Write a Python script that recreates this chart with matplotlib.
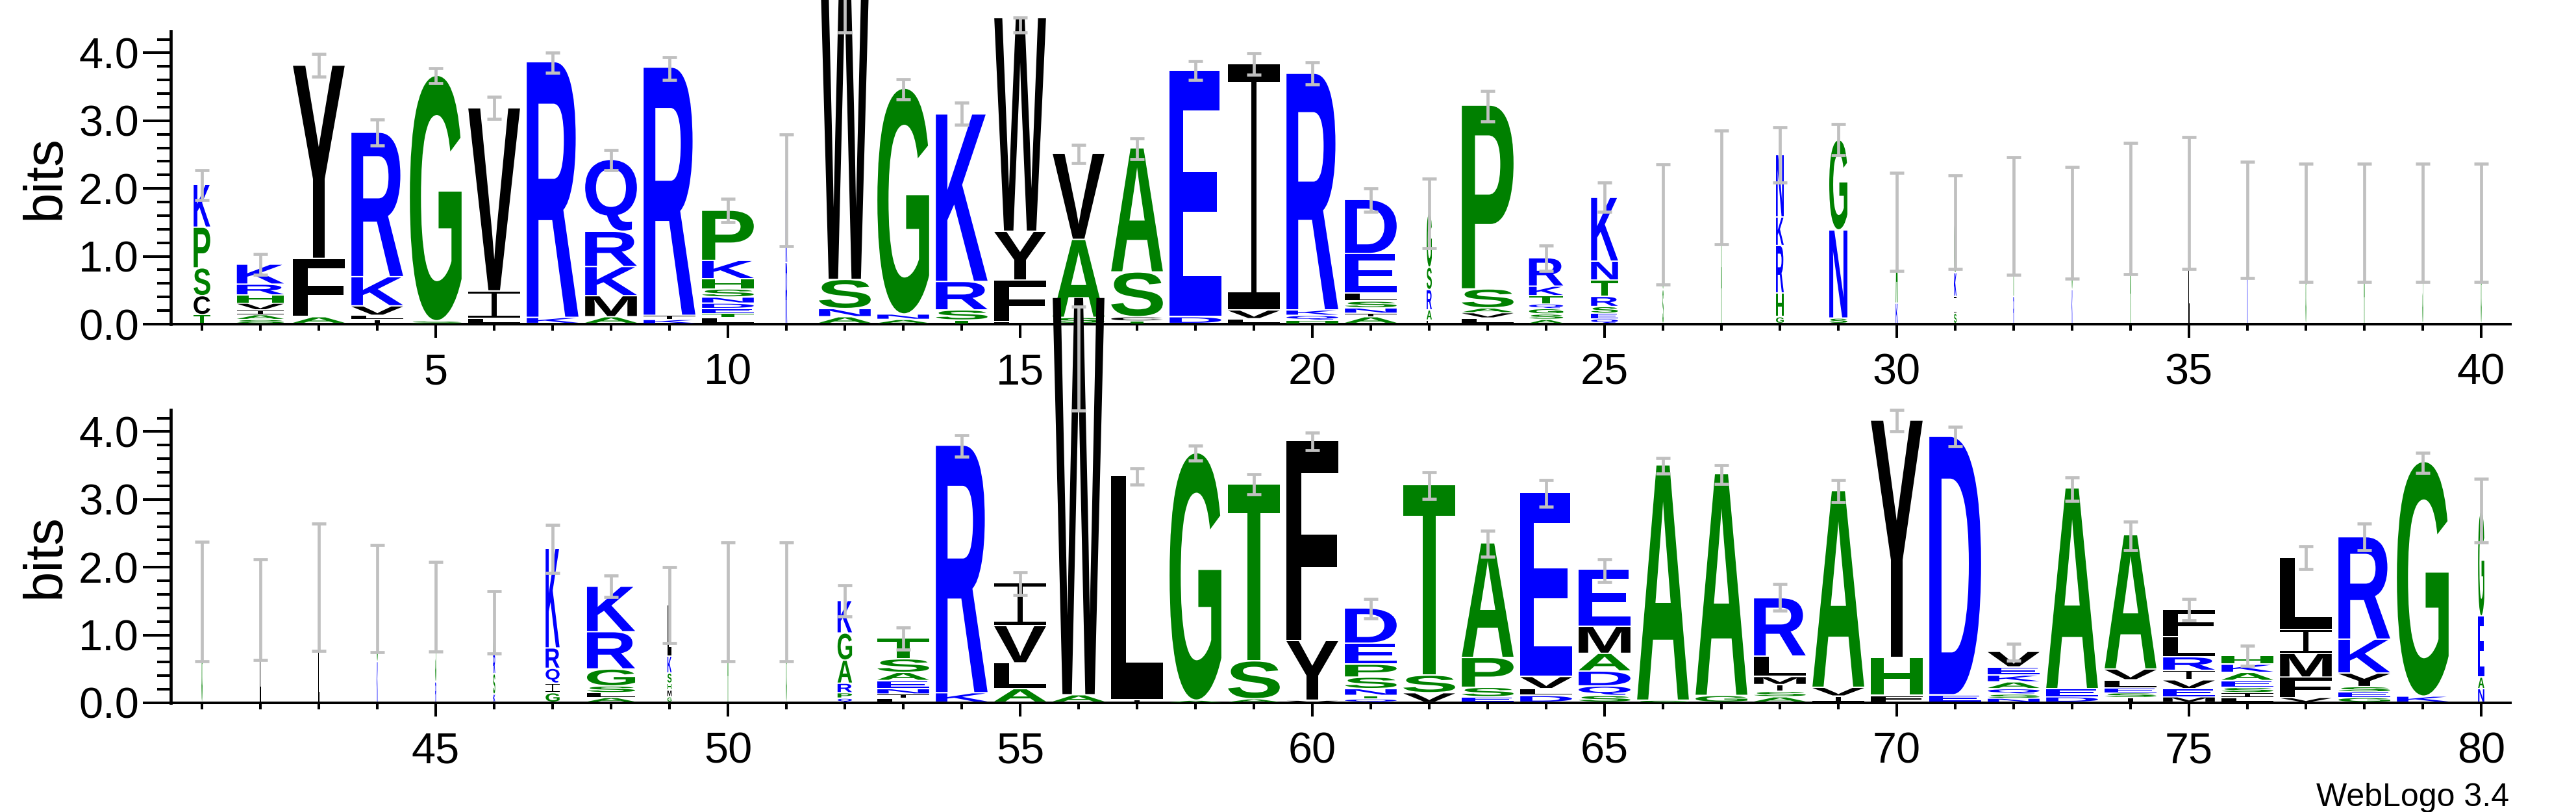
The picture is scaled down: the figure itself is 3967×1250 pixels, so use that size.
import matplotlib
matplotlib.use("Agg")
import matplotlib.pyplot as plt
from matplotlib.textpath import TextPath
from matplotlib.patches import PathPatch
from matplotlib.path import Path
from matplotlib.font_manager import FontProperties
from matplotlib.transforms import Affine2D
from matplotlib.ticker import FixedLocator, FormatStrFormatter

plt.rcParams['font.family'] = ['Liberation Sans', 'DejaVu Sans']

# ---------------- data (bottom -> top letters, heights in bits) ----------------
positions = list(range(1, 81))

stack_letters = [
    "TCSPK", "SAIVHRK", "AFY", "ILVKR", "SG", "LIV", "KR", "AMKRQ", "KIR", "LTEDNSHKP",
    "RK", "ANSW", "ANG", "TSRK", "LFYW", "SAV", "TCSA", "DE", "LVI", "HQKR",
    "AINSLED", "LARSG", "LVASP", "ASGQTKR", "QESRTNK", "SG", "A", "GHRKN", "SNG", "KA",
    "SIKG", "RA", "KG", "A", "L", "K", "G", "A", "S", "G",
    "G", "L", "LA", "KG", "RS", "KSRA", "GIQRK", "ALSGRK", "GMHSKL", "A",
    "G", "QPRAGK", "LINEAST", "KR", "ALVI", "AW", "IL", "AG", "AST", "VYF",
    "QTNSPED", "VST", "ESPA", "DLVE", "SQDAME", "SA", "GA", "ASIMLR", "IVA", "FHY",
    "ED", "NSQAKEV", "DEA", "ISELVA", "MEVIRLF", "LISEAKH", "VFMIL", "GESYKR", "KG", "NAEG",
]

stack_heights = [
    [0.13, 0.28, 0.41, 0.60, 0.63], [0.06, 0.07, 0.07, 0.10, 0.12, 0.16, 0.295], [0.10, 0.86, 2.85],
    [0.06, 0.06, 0.14, 0.43, 2.13], [0.04, 3.62], [0.08, 0.40, 2.70], [0.09, 3.77],
    [0.10, 0.31, 0.43, 0.52, 1.06], [0.06, 0.06, 3.66],
    [0.09, 0.06, 0.07, 0.08, 0.09, 0.12, 0.15, 0.27, 0.74],
    [0.90, 1.07], [0.10, 0.12, 0.43, 5.30], [0.06, 0.08, 3.33], [0.05, 0.15, 0.42, 2.47],
    [0.03, 0.61, 0.72, 3.15], [0.09, 1.15, 1.27], [0.04, 0.06, 0.66, 1.83], [0.10, 3.64],
    [0.07, 0.13, 3.63], [0.05, 0.07, 0.08, 3.49],
    [0.10, 0.05, 0.08, 0.10, 0.12, 0.58, 0.80], [0.05, 0.15, 0.30, 0.33, 0.80],
    [0.08, 0.08, 0.07, 0.28, 2.71], [0.06, 0.08, 0.08, 0.07, 0.12, 0.14, 0.42],
    [0.07, 0.08, 0.10, 0.15, 0.24, 0.28, 0.94], [0.50, 0.97], [2.01],
    [0.10, 0.35, 0.70, 0.42, 0.92], [0.08, 1.30, 1.33], [0.30, 1.21],
    [0.15, 0.25, 0.35, 0.75], [0.40, 1.20], [0.50, 1.00], [1.70], [1.79], [1.53],
    [1.50], [1.50], [1.50], [1.50],
    [1.49], [1.38], [0.90, 0.80], [0.60, 0.94], [0.30, 1.12], [0.12, 0.30, 0.30, 0.47],
    [0.14, 0.14, 0.22, 0.30, 1.47], [0.07, 0.07, 0.10, 0.25, 0.55, 0.67],
    [0.08, 0.10, 0.10, 0.15, 0.25, 0.76], [1.49],
    [1.49], [0.06, 0.08, 0.14, 0.34, 0.40, 0.48], [0.06, 0.06, 0.08, 0.12, 0.12, 0.20, 0.31],
    [0.14, 3.65], [0.20, 0.38, 0.55, 0.63], [0.11, 5.86], [0.04, 3.30], [0.03, 3.65],
    [0.05, 0.56, 2.61], [0.03, 0.88, 2.95],
    [0.05, 0.05, 0.10, 0.17, 0.19, 0.31, 0.52], [0.14, 0.26, 2.81], [0.08, 0.14, 0.44, 1.69],
    [0.10, 0.10, 0.18, 2.71], [0.10, 0.14, 0.22, 0.26, 0.40, 0.84], [0.03, 3.47], [0.10, 3.27],
    [0.08, 0.08, 0.10, 0.12, 0.30, 0.86], [0.09, 0.13, 2.90], [0.10, 0.56, 3.50],
    [0.11, 3.81], [0.06, 0.06, 0.08, 0.10, 0.10, 0.12, 0.23], [0.08, 0.12, 2.96],
    [0.07, 0.07, 0.07, 0.12, 0.16, 1.98], [0.08, 0.12, 0.13, 0.14, 0.20, 0.30, 0.40],
    [0.07, 0.07, 0.08, 0.10, 0.12, 0.12, 0.13], [0.07, 0.30, 0.35, 0.35, 1.07],
    [0.07, 0.08, 0.08, 0.20, 0.50, 1.51], [0.09, 3.46], [0.20, 0.17, 0.90, 1.55],
]

# fraction of the full stack width (columns with many gaps are narrower)
width_fraction = [
    0.32, 0.91, 1, 1, 1, 1, 1, 1, 1, 1,
    0.03, 1, 1, 1, 1, 1, 1, 1, 1, 1,
    1, 0.10, 1, 0.66, 0.52, 0.02, 0.015, 0.15, 0.35, 0.04,
    0.05, 0.015, 0.015, 0.015, 0.015, 0.015, 0.015, 0.015, 0.015, 0.015,
    0.02, 0.02, 0.02, 0.02, 0.02, 0.04, 0.27, 0.93, 0.08, 0.015,
    0.015, 0.28, 1, 1, 1, 1, 1, 1, 1, 1,
    1, 1, 1, 1, 1, 1, 1, 1, 1, 1,
    1, 1, 1, 1, 1, 1, 1, 1, 1, 0.12,
]

err_low = [
    1.83, 0.73, 3.65, 2.63, 3.55, 3.03, 3.71, 2.27, 3.60, 1.50,
    1.15, 4.30, 3.31, 2.94, 4.30, 2.38, 2.43, 3.60, 3.68, 3.53,
    1.66, 1.12, 2.99, 0.79, 1.66, 0.58, 1.18, 2.09, 2.49, 0.79,
    0.81, 0.73, 0.67, 0.74, 0.81, 0.68, 0.62, 0.62, 0.62, 0.62,
    0.61, 0.63, 0.77, 0.75, 0.76, 0.73, 1.92, 1.56, 0.88, 0.61,
    0.61, 1.27, 0.79, 3.63, 1.59, 4.31, 3.22, 3.57, 3.07, 3.73,
    1.25, 3.01, 2.16, 2.89, 1.78, 3.38, 3.23, 1.36, 2.96, 4.00,
    3.78, 0.62, 2.98, 2.25, 1.22, 0.55, 1.97, 2.25, 3.39, 2.37,
]
err_high = [
    2.27, 1.03, 3.98, 3.02, 3.77, 3.35, 4.00, 2.57, 3.94, 1.85,
    2.80, 5.80, 3.61, 3.27, 4.52, 2.64, 2.74, 3.88, 3.99, 3.86,
    2.00, 2.15, 3.44, 1.16, 2.09, 2.36, 2.85, 2.90, 2.95, 2.23,
    2.19, 2.46, 2.32, 2.67, 2.76, 2.39, 2.37, 2.37, 2.37, 2.37,
    2.38, 2.12, 2.64, 2.33, 2.08, 1.65, 2.62, 1.88, 2.00, 2.37,
    2.37, 1.73, 1.11, 3.95, 1.93, 5.84, 3.46, 3.79, 3.37, 3.98,
    1.53, 3.40, 2.54, 3.29, 2.12, 3.61, 3.51, 1.75, 3.29, 4.32,
    4.07, 0.87, 3.32, 2.67, 1.53, 0.84, 2.31, 2.64, 3.69, 3.30,
]

color_groups = {"RKDENQ": "#0000FF", "SGHTAP": "#008000", "YVMCLFIW": "#000000"}
y_major = [0, 1, 2, 3, 4]
ymax = 4.32

# ---------------- drawing ----------------
letter_color = {}
for grp, col in color_groups.items():
    for ch in grp:
        letter_color[ch] = col

fp = FontProperties(family="Liberation Sans", weight="bold")
glyphs = {}
for ch in letter_color:
    p = TextPath((0, 0), ch, size=1, prop=fp)
    glyphs[ch] = (p, p.get_extents())

# serif "I" as used by WebLogo (I-beam)
_b, _s = 0.07, 0.055
_iv = [(0, 0), (1, 0), (1, _b), (0.5 + _s, _b), (0.5 + _s, 1 - _b), (1, 1 - _b), (1, 1),
       (0, 1), (0, 1 - _b), (0.5 - _s, 1 - _b), (0.5 - _s, _b), (0, _b), (0, 0)]
_ip = Path(_iv, [Path.MOVETO] + [Path.LINETO] * 11 + [Path.CLOSEPOLY])
glyphs["I"] = (_ip, _ip.get_extents())

FULL_W = 0.885


def draw_letter(ax, ch, xc, y0, w, h):
    p, ext = glyphs[ch]
    g = min(0.02, 0.25 * h)
    hh = h - g
    t = (Affine2D().translate(-ext.x0, -ext.y0)
         .scale(w / ext.width, hh / ext.height)
         .translate(xc - w / 2.0, y0 + g))
    patch = PathPatch(t.transform_path(p), facecolor=letter_color[ch],
                      edgecolor="none", lw=0, clip_on=False, zorder=3)
    ax.add_patch(patch)


W, H = 3967, 1250
fig = plt.figure(figsize=(W / 100, H / 100), dpi=100)

panels = [(1, 40, 499), (41, 80, 1082)]
for first, last, base_px in panels:
    ax = fig.add_axes([266 / W, 1 - base_px / H, 3600 / W, 451 / H])
    ax.set_facecolor("none")
    ax.set_xlim(first - 0.5, last + 0.5)
    ax.set_ylim(0, ymax)
    for i in range(first - 1, last):
        pos = positions[i]
        wd = FULL_W * width_fraction[i]
        y = 0.0
        for ch, h in zip(stack_letters[i], stack_heights[i]):
            draw_letter(ax, ch, pos, y, wd, h)
            y += h
    sl = slice(first - 1, last)
    xs = positions[sl]
    lo = err_low[sl]
    hi = err_high[sl]
    centers = [(a + b) / 2 for a, b in zip(lo, hi)]
    halves = [(b - a) / 2 for a, b in zip(lo, hi)]
    eb = ax.errorbar(xs, centers, yerr=halves, fmt="none", ecolor="#c0c0c0",
                     elinewidth=3.4, capsize=7.6, capthick=3.4, zorder=5)
    for art in list(eb.lines[1]) + list(eb.lines[2]):
        art.set_clip_on(False)

    for s in ("top", "right"):
        ax.spines[s].set_visible(False)
    ax.spines["left"].set_position(("outward", 2.2))
    ax.spines["left"].set_linewidth(3.4)
    ax.spines["bottom"].set_linewidth(2.9)

    ax.yaxis.set_major_locator(FixedLocator(y_major))
    ax.yaxis.set_minor_locator(FixedLocator([v / 5 for v in range(0, 22) if v % 5 != 0]))
    ax.yaxis.set_major_formatter(FormatStrFormatter("%.1f"))
    ax.tick_params(axis="y", which="major", length=31, width=2.9, pad=4.3, labelsize=48)
    ax.tick_params(axis="y", which="minor", length=15, width=2.9)

    ax.xaxis.set_major_locator(FixedLocator([p for p in range(first, last + 1) if p % 5 == 0]))
    ax.xaxis.set_minor_locator(FixedLocator([p for p in range(first, last + 1) if p % 5 != 0]))
    ax.tick_params(axis="x", which="major", length=15, width=2.9, pad=17, labelsize=48)
    ax.tick_params(axis="x", which="minor", length=7, width=2.9)

    ax.set_ylabel("bits", fontsize=60, va="center")
    ax.yaxis.set_label_coords(-196 / 3600, 0.5)

fig.text(3864 / W, 1 - 1241 / H, "WebLogo 3.4", ha="right", va="baseline", fontsize=36)

fig.savefig("out.png", dpi=100)
